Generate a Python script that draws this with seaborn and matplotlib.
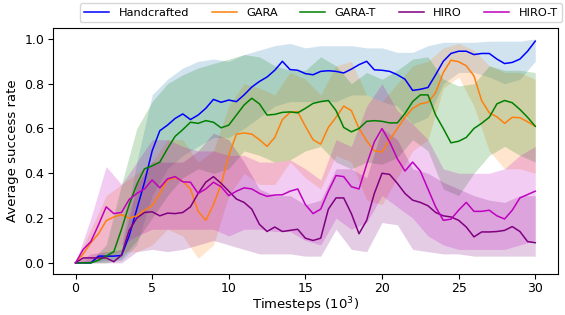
import numpy as np
import pandas as pd
import matplotlib
matplotlib.use("Agg")
import matplotlib.pyplot as plt
import seaborn as sns

# ------------------------------------------------------------
# data (x in 10^3 timesteps)
# ------------------------------------------------------------
steps = np.arange(0, 30.5, 0.5)
band_steps = np.arange(0, 31, 1)

handcrafted = [0, 0, 0.0, 0.03, 0.03, 0.03, 0.033, 0.12, 0.24, 0.36, 0.5, 0.59, 0.615, 0.645, 0.665,
               0.64, 0.66, 0.69, 0.73, 0.717, 0.727, 0.72, 0.75, 0.785, 0.81, 0.83, 0.86, 0.9, 0.863,
               0.86, 0.845, 0.84, 0.855, 0.858, 0.855, 0.848, 0.865, 0.885, 0.9, 0.862, 0.86, 0.855,
               0.84, 0.82, 0.77, 0.775, 0.783, 0.84, 0.9, 0.935, 0.945, 0.945, 0.93, 0.935, 0.935,
               0.91, 0.89, 0.895, 0.91, 0.945, 0.99]
gara = [0, 0.04, 0.09, 0.13, 0.188, 0.205, 0.215, 0.2, 0.21, 0.235, 0.255, 0.31, 0.37, 0.38, 0.365,
        0.33, 0.23, 0.19, 0.26, 0.35, 0.48, 0.575, 0.58, 0.575, 0.55, 0.52, 0.56, 0.64, 0.672, 0.675,
        0.61, 0.55, 0.53, 0.605, 0.65, 0.7, 0.68, 0.6, 0.545, 0.5, 0.495, 0.55, 0.6, 0.65, 0.69, 0.71,
        0.717, 0.76, 0.85, 0.905, 0.898, 0.88, 0.835, 0.725, 0.67, 0.652, 0.623, 0.65, 0.648, 0.63, 0.61]
gara_t = [0, 0, 0, 0.012, 0.03, 0.05, 0.15, 0.26, 0.35, 0.42, 0.433, 0.45, 0.51, 0.565, 0.595, 0.628,
          0.623, 0.635, 0.628, 0.603, 0.615, 0.66, 0.705, 0.735, 0.71, 0.66, 0.663, 0.672, 0.674, 0.67,
          0.69, 0.712, 0.72, 0.725, 0.68, 0.605, 0.585, 0.6, 0.632, 0.635, 0.632, 0.625, 0.625, 0.667,
          0.72, 0.75, 0.75, 0.66, 0.6, 0.536, 0.543, 0.56, 0.6, 0.623, 0.65, 0.71, 0.725, 0.715, 0.685,
          0.65, 0.61]
hiro = [0, 0.022, 0.022, 0.022, 0.022, 0.005, 0.035, 0.145, 0.2, 0.225, 0.228, 0.21, 0.222, 0.22,
        0.225, 0.25, 0.31, 0.36, 0.385, 0.355, 0.32, 0.285, 0.27, 0.24, 0.172, 0.14, 0.16, 0.14, 0.145,
        0.15, 0.11, 0.1, 0.11, 0.24, 0.29, 0.29, 0.22, 0.13, 0.19, 0.31, 0.4, 0.395, 0.355, 0.31, 0.28,
        0.27, 0.255, 0.225, 0.21, 0.205, 0.19, 0.16, 0.116, 0.138, 0.138, 0.14, 0.145, 0.162, 0.14,
        0.095, 0.09]
hiro_t = [0, 0.06, 0.095, 0.17, 0.25, 0.22, 0.225, 0.283, 0.31, 0.33, 0.37, 0.335, 0.375, 0.385, 0.362,
          0.36, 0.31, 0.33, 0.36, 0.34, 0.3, 0.32, 0.335, 0.33, 0.31, 0.297, 0.303, 0.304, 0.32, 0.33,
          0.26, 0.22, 0.24, 0.32, 0.39, 0.385, 0.34, 0.33, 0.44, 0.54, 0.6, 0.54, 0.465, 0.41, 0.45,
          0.41, 0.33, 0.25, 0.19, 0.195, 0.235, 0.27, 0.23, 0.23, 0.235, 0.21, 0.196, 0.235, 0.29,
          0.305, 0.32]

# shaded bands (lower / upper), one value per 10^3 steps
handcrafted_lo = [0, 0, 0.01, 0.01, 0.08, 0.3, 0.42, 0.48, 0.52, 0.56, 0.56, 0.6, 0.65, 0.7, 0.72, 0.72,
                  0.72, 0.72, 0.75, 0.75, 0.72, 0.7, 0.62, 0.65, 0.8, 0.85, 0.85, 0.83, 0.8, 0.82, 0.9]
handcrafted_hi = [0, 0.02, 0.05, 0.08, 0.45, 0.75, 0.82, 0.87, 0.9, 0.91, 0.9, 0.93, 0.95, 0.97, 0.98,
                  0.96, 0.97, 0.97, 0.97, 0.96, 0.96, 0.94, 0.94, 0.97, 0.985, 0.985, 0.985, 0.99, 0.99,
                  0.99, 1.0]
gara_lo = [0, 0, 0.02, 0.05, 0.05, 0.08, 0.15, 0.12, 0.02, 0.08, 0.3, 0.4, 0.35, 0.35, 0.45, 0.38, 0.33,
           0.48, 0.45, 0.28, 0.26, 0.38, 0.5, 0.55, 0.78, 0.83, 0.7, 0.5, 0.42, 0.42, 0.4]
gara_hi = [0, 0.15, 0.3, 0.35, 0.4, 0.45, 0.55, 0.55, 0.45, 0.5, 0.7, 0.8, 0.78, 0.75, 0.85, 0.82, 0.75,
           0.88, 0.9, 0.75, 0.72, 0.8, 0.88, 0.9, 0.96, 0.98, 0.95, 0.88, 0.85, 0.85, 0.82]
gara_t_lo = [0, 0, 0, 0.02, 0.1, 0.2, 0.3, 0.38, 0.42, 0.4, 0.42, 0.5, 0.48, 0.45, 0.46, 0.5, 0.52, 0.45,
             0.42, 0.45, 0.44, 0.47, 0.55, 0.5, 0.33, 0.3, 0.4, 0.48, 0.52, 0.48, 0.45]
gara_t_hi = [0, 0.01, 0.08, 0.35, 0.6, 0.72, 0.8, 0.84, 0.87, 0.89, 0.91, 0.93, 0.92, 0.88, 0.86, 0.86,
             0.92, 0.88, 0.8, 0.85, 0.82, 0.86, 0.91, 0.92, 0.82, 0.79, 0.8, 0.88, 0.86, 0.86, 0.85]
hiro_lo = [0, 0, 0, 0, 0.05, 0.06, 0.05, 0.06, 0.08, 0.1, 0.08, 0.06, 0.04, 0.04, 0.04, 0.03, 0.03, 0.15,
           0.06, 0.05, 0.18, 0.17, 0.06, 0.05, 0.04, 0.04, 0.03, 0.03, 0.03, 0.03, 0.03]
hiro_hi = [0, 0.04, 0.05, 0.06, 0.35, 0.45, 0.45, 0.45, 0.5, 0.58, 0.55, 0.45, 0.33, 0.3, 0.3, 0.26, 0.28,
           0.42, 0.42, 0.38, 0.6, 0.55, 0.42, 0.4, 0.36, 0.33, 0.3, 0.28, 0.27, 0.3, 0.3]
hiro_t_lo = [0, 0, 0.05, 0.08, 0.12, 0.15, 0.15, 0.15, 0.15, 0.15, 0.12, 0.15, 0.15, 0.14, 0.14, 0.1, 0.08,
             0.2, 0.15, 0.18, 0.3, 0.25, 0.2, 0.12, 0.08, 0.06, 0.06, 0.06, 0.06, 0.08, 0.1]
hiro_t_hi = [0, 0.2, 0.43, 0.35, 0.45, 0.55, 0.55, 0.52, 0.5, 0.5, 0.48, 0.48, 0.45, 0.45, 0.46, 0.42, 0.37,
             0.55, 0.52, 0.7, 0.8, 0.68, 0.62, 0.55, 0.42, 0.4, 0.4, 0.4, 0.42, 0.48, 0.52]

methods = ["Handcrafted", "GARA", "GARA-T", "HIRO", "HIRO-T"]
means = [handcrafted, gara, gara_t, hiro, hiro_t]
lows = [handcrafted_lo, gara_lo, gara_t_lo, hiro_lo, hiro_t_lo]
highs = [handcrafted_hi, gara_hi, gara_t_hi, hiro_hi, hiro_t_hi]
line_colors = ["blue", "tab:orange", "green", "purple", "m"]
band_colors = ["tab:blue", "tab:orange", "green", "purple", "m"]

# ------------------------------------------------------------
# plot
# ------------------------------------------------------------
fig = plt.figure(figsize=(5.65, 3.15), dpi=100)
ax = fig.add_axes([0.093, 0.13, 0.895, 0.782])

for lo, hi, c in zip(lows, highs, band_colors):
    ax.fill_between(band_steps, lo, hi, color=c, alpha=0.2, linewidth=0)

for name, m, c in zip(methods, means, line_colors):
    df = pd.DataFrame({"step": steps, "rate": m})
    sns.lineplot(data=df, x="step", y="rate", color=c, label=name, linewidth=1.1, ax=ax, legend=False)

ax.set_xlim(-1.5, 31.5)
ax.set_ylim(-0.05, 1.05)
ax.set_xticks([0, 5, 10, 15, 20, 25, 30])
ax.set_yticks([0.0, 0.2, 0.4, 0.6, 0.8, 1.0])
ax.tick_params(labelsize=9, pad=2.5)
ax.set_xlabel("Timesteps ($10^3$)", fontsize=9.5, labelpad=0)
ax.set_ylabel("Average success rate", fontsize=9.5, labelpad=4)

handles, labels = ax.get_legend_handles_labels()
fig.legend(handles, labels, loc="upper right", bbox_to_anchor=(0.999, 0.997), ncol=5,
           fontsize=8.2, handlelength=2.2, columnspacing=2.0, borderaxespad=0.2)

fig.savefig("out.png", dpi=100)
